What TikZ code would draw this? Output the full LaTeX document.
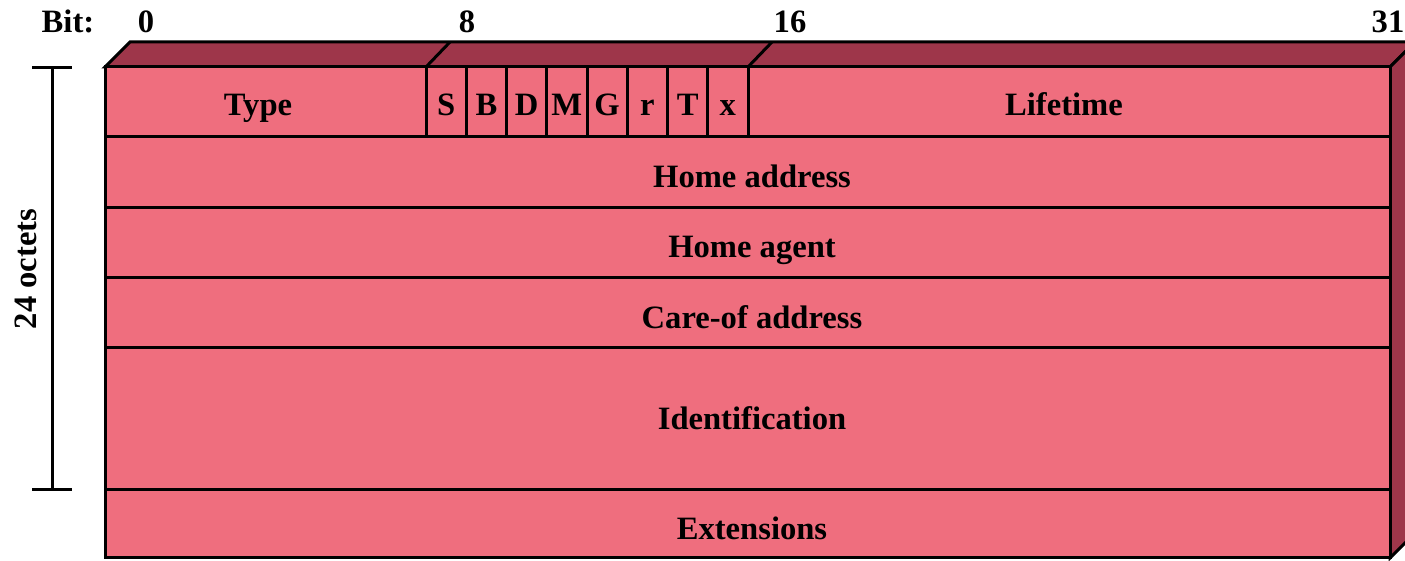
\documentclass[tikz,border=0pt]{standalone}
\usepackage{fontspec}
\setmainfont{Liberation Serif}
\definecolor{frontc}{HTML}{EF6E7E}
\definecolor{darkc}{HTML}{9E364A}
\begin{document}
\begin{tikzpicture}[x=0.5pt,y=-0.5pt,
  edge/.style={line width=1.5pt,line join=miter},
  field/.style={edge,draw=black,fill=frontc},
  shade/.style={edge,draw=black,fill=darkc},
  lbl/.style={font=\fontsize{16.3pt}{18pt}\selectfont\bfseries,anchor=base,inner sep=0pt},
  bar/.style={line width=1.5pt}]
\useasboundingbox (0,0) rectangle (1405,561);
% 3D faces
\draw[shade] (105,67) -- (130,42) -- (1415,42) -- (1390,67) -- cycle;
\draw[shade] (1390,67) -- (1415,42) -- (1415,533) -- (1390,558) -- cycle;
\draw[edge] (426,67) -- (450,42);
\draw[edge] (748,67) -- (772,42);
% first row
\draw[field] (105,67) rectangle (426,137);
\foreach \i in {0,...,7}{
  \draw[field] ({426+\i*40.25},67) rectangle ({426+(\i+1)*40.25},137);
}
\draw[field] (748,67) rectangle (1390,137);
% other rows
\draw[field] (105,137) rectangle (1390,208);
\draw[field] (105,208) rectangle (1390,278);
\draw[field] (105,278) rectangle (1390,348);
\draw[field] (105,348) rectangle (1390,490);
\draw[field] (105,490) rectangle (1390,558);
% labels
\node[lbl] (type) at (258,116) {Type};
\foreach \l [count=\i from 0] in {S,B,D,M,G,r,T,x}{
  \node[lbl] (flag\i) at ({426+(\i+0.5)*40.25},116) {\l};
}
\node[lbl] (life) at (1064,116) {Lifetime};
\node[lbl] (home) at (752,188) {Home address};
\node[lbl] (agent) at (752,258) {Home agent};
\node[lbl] (coa) at (752,329) {Care-of address};
\node[lbl] (ident) at (752,430) {Identification};
\node[lbl] (ext) at (752,539) {Extensions};
% bit labels
\node[lbl] (bit) at (68,33) {Bit:};
\node[lbl] (b0) at (146,33) {0};
\node[lbl] (b8) at (467,33) {8};
\node[lbl] (b16) at (790,33) {16};
\node[lbl] (b31) at (1388,33) {31};
% 24 octets bar
\coordinate (bt) at (52,68);
\coordinate (bb) at (52,490);
\draw[bar] (bt) -- (bb);
\draw[bar] (32,68) -- (72,68);
\draw[bar] (32,490) -- (72,490);
\node[lbl,rotate=90,anchor=center] (oct) at (26,269) {24 octets};
\end{tikzpicture}
\end{document}
